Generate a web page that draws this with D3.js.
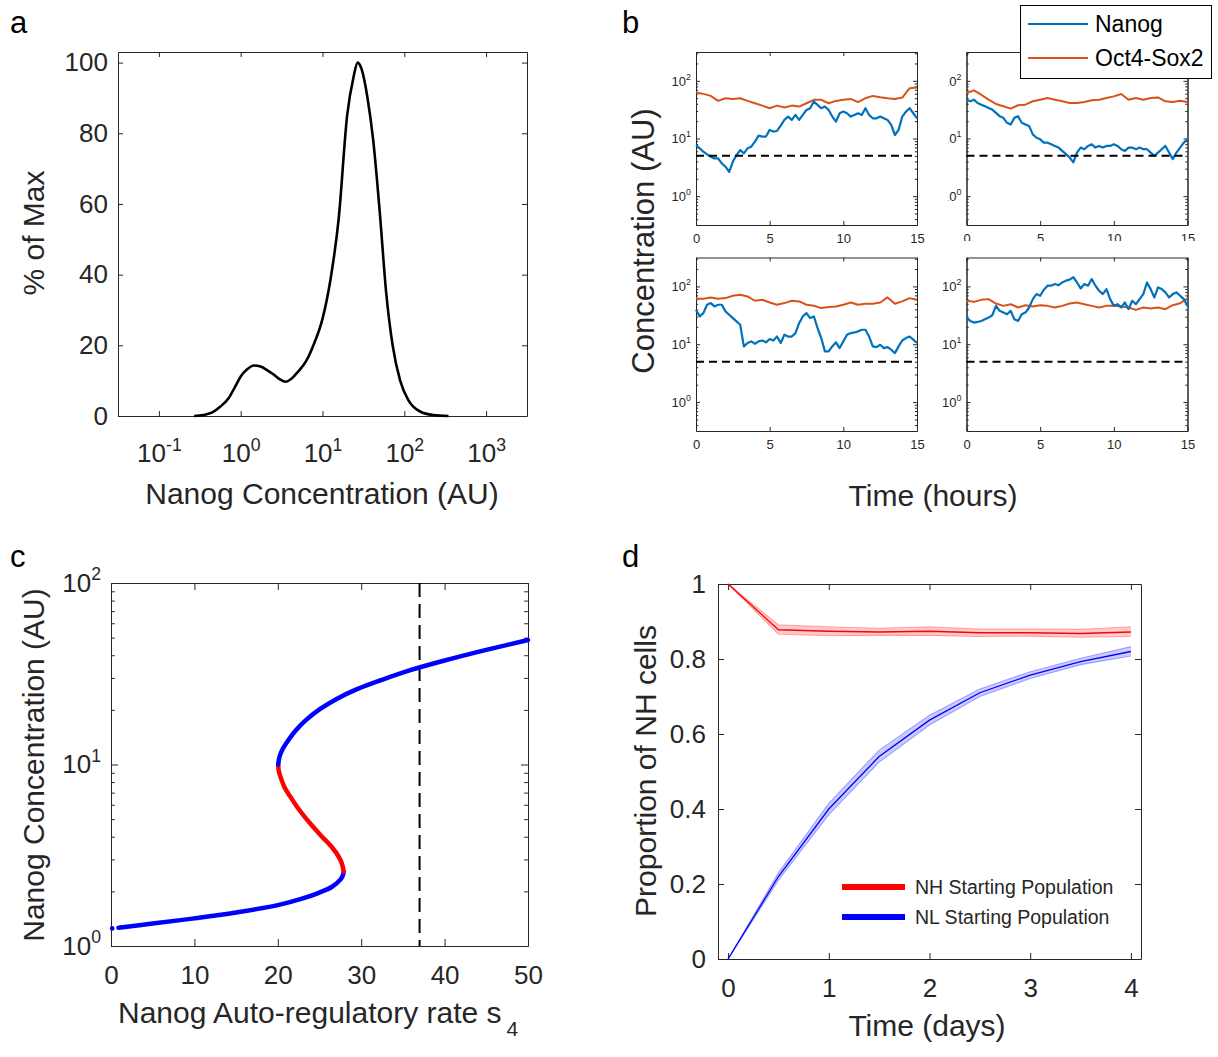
<!DOCTYPE html>
<html>
<head>
<meta charset="utf-8">
<script src="https://cdn.jsdelivr.net/npm/d3@7"></script>
<style>
  body { margin: 0; background: #fff; }
  text { font-family: "Liberation Sans", Arial, sans-serif; }
</style>
</head>
<body>
<div id="fig"></div>
<script>
// ---- panel a: Nanog distribution
var concA = [0.27, 0.35, 0.45, 0.56, 0.71, 0.85, 1.0, 1.2, 1.45, 1.75, 2.1, 2.5, 3.0, 3.55, 4.2, 5.0, 6.3, 7.9,
  10, 12.6, 15.8, 20, 24, 26.9, 30.2, 35.5, 41.7, 50, 60, 72, 89, 112, 158, 224, 347];
var pctA = [0, 0.3, 1.0, 2.6, 5.0, 8.2, 11.2, 13.2, 14.3, 14.0, 13.0, 11.8, 10.4, 9.7, 10.6, 12.5, 15.5, 20.5,
  27.5, 39, 56, 85, 96, 100, 98, 90, 78, 58, 35, 20, 10, 4.5, 1.2, 0.3, 0];
var xTicksA = [0.1, 1, 10, 100, 1000];
var yTicksA = [0, 20, 40, 60, 80, 100];

// ---- panel b: four stochastic trajectories (hours)
var threshold = 5;
var xTicksB = [0, 5, 10, 15];
var yTicksB = [1, 10, 100];
var octTL = [62.7, 59.4, 54.8, 44.9, 50.0, 48.6, 50.0, 44.9, 40.9, 37.2, 33.5, 37.2, 34.4, 37.2, 35.8, 40.9,
  46.8, 46.8, 40.9, 44.9, 46.8, 48.6, 42.6, 50.0, 54.8, 52.0, 50.0, 48.6, 51.3, 74.5, 76.6];
var nanogTL = [7.71, 6.75, 5.90, 5.31, 4.83, 4.52, 4.52, 3.70, 3.24, 2.65,
  3.95, 5.16, 6.31, 5.52, 6.75, 7.21, 8.81, 11.2, 10.8, 10.8,
  14.1, 13.2, 13.5, 16.7, 21.0, 24.0, 21.0, 25.6, 21.0, 25.6,
  31.3, 33.5, 43.8, 38.3, 33.5, 35.8, 31.3, 24.0, 19.6, 27.4,
  29.3, 27.4, 24.0, 25.6, 27.4, 25.6, 33.5, 25.6, 22.4, 22.4,
  24.0, 22.4, 21.0, 17.2, 11.5, 14.1, 24.0, 29.3, 33.5, 27.4, 22.4];
var octTR = [61.4, 68.2, 57.4, 47.1, 39.7, 36.2, 33.0, 37.7, 38.6, 44.2, 47.1, 50.4, 47.1, 44.2, 41.3, 41.3,
  43.0, 45.9, 47.1, 50.4, 53.8, 59.0, 47.1, 50.4, 47.1, 50.4, 51.6, 44.2, 43.0, 45.3, 43.0];
var nanogTR = [47.1, 44.2, 47.1, 41.3, 38.6, 36.2, 33.9, 31.7, 27.8, 24.4,
  22.8, 18.7, 17.5, 22.8, 24.4, 18.7, 17.5, 16.4, 11.8, 10.3,
  9.68, 8.47, 8.47, 7.94, 7.43, 6.95, 6.10, 5.35, 4.68, 3.85,
  5.70, 6.95, 6.52, 7.43, 7.94, 6.95, 7.43, 6.95, 7.43, 7.43,
  7.94, 7.43, 6.52, 6.10, 6.95, 6.95, 6.52, 6.95, 6.52, 6.52,
  5.70, 5.00, 5.70, 6.52, 7.43, 5.70, 4.39, 5.70, 6.95, 8.47, 9.68];
var octBL = [61.2, 61.2, 64.6, 61.2, 62.8, 69.0, 71.8, 67.1, 56.5, 58.7, 52.8, 48.2, 51.5, 56.5, 55.1, 48.2,
  46.3, 42.2, 44.0, 45.1, 48.2, 52.8, 48.2, 50.1, 50.1, 52.8, 64.6, 50.1, 55.1, 62.8, 58.7];
var nanogBL = [39.5, 30.3, 34.6, 48.2, 51.5, 45.1, 48.2, 48.2, 37.0, 32.4,
  28.3, 24.8, 21.7, 9.18, 10.5, 11.2, 10.2, 11.2, 11.6, 10.8,
  12.3, 11.6, 13.6, 10.5, 14.6, 13.6, 13.6, 15.6, 23.2, 30.3,
  34.6, 28.3, 30.3, 19.1, 12.8, 7.52, 7.52, 9.18, 10.8, 8.59,
  11.2, 14.6, 15.6, 16.0, 16.7, 17.8, 17.8, 13.6, 9.18, 8.93,
  9.79, 8.59, 8.93, 8.04, 7.03, 9.18, 11.6, 12.8, 13.6, 12.0, 10.5];
var octBR = [56.4, 54.1, 58.6, 60.3, 50.6, 46.1, 49.3, 43.2, 47.3, 44.9, 47.3, 46.1, 43.2, 46.1, 50.6, 52.7,
  49.3, 46.1, 43.2, 46.1, 46.1, 44.9, 43.2, 39.3, 43.2, 41.4, 43.2, 40.4, 47.3, 51.3, 61.8];
var nanogBR = [28.9, 25.3, 23.7, 24.3, 25.3, 27.0, 28.9, 31.7, 46.1, 37.8,
  35.3, 33.0, 37.8, 27.0, 25.3, 33.0, 35.3, 43.2, 60.3, 73.6,
  68.9, 87.5, 103, 103, 110, 105, 117, 126, 131, 144,
  117, 92.3, 110, 103, 134, 103, 84.1, 73.6, 89.9, 60.3,
  46.1, 49.3, 43.2, 52.7, 40.4, 56.4, 49.3, 60.3, 73.6, 117,
  89.9, 64.4, 96.2, 89.9, 78.7, 64.4, 73.6, 78.7, 68.9, 60.3, 46.1];
var legendB = ["Nanog", "Oct4-Sox2"];

// ---- panel c: bifurcation diagram
var lowS = [0.9, 5, 10, 15, 20, 23, 25, 26.5, 27.5, 27.8, 27.9];
var lowN = [1.26, 1.33, 1.42, 1.53, 1.68, 1.83, 1.97, 2.12, 2.32, 2.45, 2.57];
var midS = [27.9, 27.75, 27.4, 26.5, 25.3, 24.2, 23.2, 22.3, 21.5, 20.8, 20.3, 20.1, 20.05];
var midN = [2.57, 2.78, 3.05, 3.5, 4.0, 4.55, 5.16, 5.85, 6.65, 7.5, 8.6, 9.3, 10];
var highS = [20.05, 20.2, 20.6, 21.3, 22.2, 23.4, 25, 27, 29.5, 32.5, 36, 40, 45, 50];
var highN = [10, 11.0, 12.2, 13.7, 15.5, 17.6, 20.1, 22.9, 26.0, 29.3, 33.2, 37.4, 42.8, 48.5];
var startS = 0.14, startN = 1.25;
var s4Marker = 37;
var xTicksC = [0, 10, 20, 30, 40, 50];
var yTicksC = [1, 10, 100];

// ---- panel d: proportion of NH cells over days
var days = [0, 0.5, 1, 1.5, 2, 2.5, 3, 3.5, 4];
var nhMean = [1.0, 0.878, 0.874, 0.872, 0.874, 0.870, 0.870, 0.868, 0.872];
var nhUpper = [1.0, 0.891, 0.886, 0.882, 0.886, 0.880, 0.880, 0.879, 0.886];
var nhLower = [1.0, 0.866, 0.862, 0.863, 0.863, 0.860, 0.861, 0.858, 0.860];
var nlMean = [0, 0.22, 0.40, 0.54, 0.637, 0.71, 0.757, 0.793, 0.82];
var nlUpper = [0, 0.23, 0.415, 0.557, 0.65, 0.72, 0.766, 0.802, 0.833];
var nlLower = [0, 0.21, 0.385, 0.525, 0.624, 0.70, 0.748, 0.785, 0.808];
var xTicksD = [0, 1, 2, 3, 4];
var yTicksD = [0, 0.2, 0.4, 0.6, 0.8, 1];
var legendD = ["NH Starting Population", "NL Starting Population"];

var axisColor = "#262626";
var nanogColor = "#0072BD", octColor = "#D95319";

var svg = d3.select("#fig").append("svg")
  .attr("width", 1218)
  .attr("height", 1057);
svg.append("rect").attr("width", 1218).attr("height", 1057).attr("fill", "#fff");

// "10^n" labels with a raised exponent
function powTen(sel, fs) {
  sel.each(function(d) {
    var t = d3.select(this).text(null);
    t.append("tspan").text("10");
    t.append("tspan")
      .attr("dy", -0.45 * fs)
      .attr("font-size", 0.68 * fs)
      .text(Math.round(Math.log10(d)));
  });
}

// matlab style box: ticks pointing in on all four sides
function frame(g, x, y, o) {
  var xr = x.range(), yr = y.range();
  var xb = g.append("g").attr("transform", `translate(0,${yr[0]})`)
    .call(d3.axisBottom(x).tickValues(o.xTicks).tickSizeInner(-o.tick).tickSizeOuter(0)
      .tickPadding(o.xPad).tickFormat(o.xFmt));
  var xt = g.append("g").attr("transform", `translate(0,${yr[1]})`)
    .call(d3.axisTop(x).tickValues(o.xTicks).tickSizeInner(-o.tick).tickSizeOuter(0).tickFormat(""));
  var yl = g.append("g").attr("transform", `translate(${xr[0]},0)`)
    .call(d3.axisLeft(y).tickValues(o.yTicks).tickSizeInner(-o.tick).tickSizeOuter(0)
      .tickPadding(o.yPad).tickFormat(o.yFmt));
  var yri = g.append("g").attr("transform", `translate(${xr[1]},0)`)
    .call(d3.axisRight(y).tickValues(o.yTicks).tickSizeInner(-o.tick).tickSizeOuter(0).tickFormat(""));
  var all = [xb, xt, yl, yri];
  if (o.yMinor) {
    all.push(g.append("g").attr("transform", `translate(${xr[0]},0)`)
      .call(d3.axisLeft(y).tickValues(o.yMinor).tickSizeInner(-o.tick * 0.55).tickSizeOuter(0).tickFormat("")));
    all.push(g.append("g").attr("transform", `translate(${xr[1]},0)`)
      .call(d3.axisRight(y).tickValues(o.yMinor).tickSizeInner(-o.tick * 0.55).tickSizeOuter(0).tickFormat("")));
  }
  all.forEach(function(a) {
    a.attr("color", axisColor).attr("font-size", o.fs);
  });
  if (o.xLog) powTen(xb.selectAll(".tick text"), o.fs);
  if (o.yLog) powTen(yl.selectAll(".tick text"), o.fs);
}

function logMinor(lo, hi) {
  var out = [];
  for (var e = -2; e <= 3; e++) {
    for (var m = 2; m <= 9; m++) {
      var v = m * Math.pow(10, e);
      if (v > lo && v < hi) out.push(v);
    }
  }
  return out;
}

function label(x, y, txt, fs, rotate) {
  return svg.append("text")
    .attr("transform", `translate(${x},${y})` + (rotate ? " rotate(-90)" : ""))
    .attr("text-anchor", "middle")
    .attr("dy", "0.35em")
    .attr("font-size", fs)
    .attr("fill", axisColor)
    .text(txt);
}

function panelLetter(x, y, txt) {
  svg.append("text").attr("x", x).attr("y", y).attr("font-size", 31).attr("fill", "#000").text(txt);
}

// ================= panel a
var xA = d3.scaleLog().domain([Math.pow(10, -1.5), Math.pow(10, 3.5)]).range([118, 527]);
var yA = d3.scaleLinear().domain([0, 103]).range([416, 52]);
var gA = svg.append("g");
frame(gA, xA, yA, {xTicks: xTicksA, yTicks: yTicksA, tick: 5, xPad: 28, yPad: 10, fs: 26,
  xFmt: d => d, yFmt: d => d, xLog: true});
gA.append("path")
  .datum(pctA)
  .attr("d", d3.line().x((d, i) => xA(concA[i])).y(d => yA(d)).curve(d3.curveMonotoneX))
  .attr("fill", "none")
  .attr("stroke", "#000")
  .attr("stroke-width", 2.6);
label(322, 493, "Nanog Concentration (AU)", 30);
label(33, 233, "% of Max", 30, true);
panelLetter(10, 33, "a");

// ================= panel b
var tHalf = d3.range(0, 15.001, 0.5);
var tQuarter = d3.range(0, 15.001, 0.25);
var subplots = [
  {x0: 696, x1: 917, y0: 225, y1: 52, oct: octTL, nanog: nanogTL},
  {x0: 966.5, x1: 1187.5, y0: 225, y1: 52, oct: octTR, nanog: nanogTR, clip: true},
  {x0: 696, x1: 917, y0: 431, y1: 257.5, oct: octBL, nanog: nanogBL},
  {x0: 966.5, x1: 1187.5, y0: 431, y1: 257.5, oct: octBR, nanog: nanogBR}
];
svg.append("defs").append("clipPath").attr("id", "clipTR")
  .append("rect").attr("x", 948.5).attr("y", 0).attr("width", 270).attr("height", 241);

subplots.forEach(function(p) {
  var x = d3.scaleLinear().domain([0, 15]).range([p.x0, p.x1]);
  var y = d3.scaleLog().domain([Math.pow(10, -0.5), Math.pow(10, 2.5)]).range([p.y0, p.y1]);
  var g = svg.append("g");
  if (p.clip) g.attr("clip-path", "url(#clipTR)");
  frame(g, x, y, {xTicks: xTicksB, yTicks: yTicksB, yMinor: logMinor(0.32, 316), tick: 4, xPad: 9, yPad: 5,
    fs: 13, xFmt: d => d, yFmt: d => d, yLog: true});
  g.append("path")
    .datum(p.oct)
    .attr("d", d3.line().x((d, i) => x(tHalf[i])).y(d => y(d)))
    .attr("fill", "none")
    .attr("stroke", octColor)
    .attr("stroke-width", 2)
    .attr("stroke-linejoin", "round");
  g.append("path")
    .datum(p.nanog)
    .attr("d", d3.line().x((d, i) => x(tQuarter[i])).y(d => y(d)))
    .attr("fill", "none")
    .attr("stroke", nanogColor)
    .attr("stroke-width", 2.2)
    .attr("stroke-linejoin", "round");
  g.append("line")
    .attr("x1", x(0)).attr("x2", x(15))
    .attr("y1", y(threshold)).attr("y2", y(threshold))
    .attr("stroke", "#000")
    .attr("stroke-width", 2)
    .attr("stroke-dasharray", "8,5");
});

// legend for b
var legB = svg.append("g");
legB.append("rect")
  .attr("x", 1020.5).attr("y", 5.5).attr("width", 191).attr("height", 73)
  .attr("fill", "#fff").attr("stroke", "#000").attr("stroke-width", 1);
legendB.forEach(function(name, i) {
  var yy = 24 + i * 34;
  legB.append("line")
    .attr("x1", 1028).attr("x2", 1088).attr("y1", yy).attr("y2", yy)
    .attr("stroke", i === 0 ? nanogColor : octColor)
    .attr("stroke-width", 2);
  legB.append("text")
    .attr("x", 1095).attr("y", yy).attr("dy", "0.35em")
    .attr("font-size", 23).attr("fill", "#000")
    .text(name);
});
label(643, 241, "Concentration (AU)", 31, true);
label(933, 495, "Time (hours)", 30);
panelLetter(622, 33, "b");

// ================= panel c
var xC = d3.scaleLinear().domain([0, 50]).range([111, 528]);
var yC = d3.scaleLog().domain([1, 100]).range([946, 583]);
var gC = svg.append("g");
frame(gC, xC, yC, {xTicks: xTicksC, yTicks: yTicksC, yMinor: logMinor(1, 100), tick: 7, xPad: 20, yPad: 10,
  fs: 26, xFmt: d => d, yFmt: d => d, yLog: true});
gC.append("line")
  .attr("x1", xC(s4Marker)).attr("x2", xC(s4Marker))
  .attr("y1", yC(100)).attr("y2", yC(1))
  .attr("stroke", "#000")
  .attr("stroke-width", 2)
  .attr("stroke-dasharray", "14,7");
var branches = [
  {s: lowS, n: lowN, color: "#0000FF"},
  {s: midS, n: midN, color: "#FF0000"},
  {s: highS, n: highN, color: "#0000FF"}
];
branches.forEach(function(b) {
  gC.append("path")
    .datum(b.n)
    .attr("d", d3.line().x((d, i) => xC(b.s[i])).y(d => yC(d)).curve(d3.curveCatmullRom.alpha(0.5)))
    .attr("fill", "none")
    .attr("stroke", b.color)
    .attr("stroke-width", 4.5)
    .attr("stroke-linecap", "round");
});
gC.append("circle")
  .attr("cx", xC(startS)).attr("cy", yC(startN)).attr("r", 2.3)
  .attr("fill", "#0000FF");
var xlabC = svg.append("text")
  .attr("x", 118).attr("y", 1023)
  .attr("font-size", 30)
  .attr("fill", axisColor);
xlabC.append("tspan").text("Nanog Auto-regulatory rate s");
xlabC.append("tspan").attr("dx", 5).attr("dy", 13).attr("font-size", 21).text("4");
label(33, 765, "Nanog Concentration (AU)", 30, true);
panelLetter(10, 567, "c");

// ================= panel d
var xD = d3.scaleLinear().domain([-0.1, 4.1]).range([718, 1141]);
var yD = d3.scaleLinear().domain([0, 1]).range([959, 584]);
var gD = svg.append("g");
frame(gD, xD, yD, {xTicks: xTicksD, yTicks: yTicksD, tick: 6, xPad: 20, yPad: 12, fs: 26,
  xFmt: d => d, yFmt: d => d});
var groups = [
  {mean: nhMean, up: nhUpper, lo: nhLower, color: "#FF0000"},
  {mean: nlMean, up: nlUpper, lo: nlLower, color: "#0000FF"}
];
groups.forEach(function(s) {
  var band = d3.area().x((d, i) => xD(days[i])).y0((d, i) => yD(s.lo[i])).y1(d => yD(d));
  gD.append("path").datum(s.up).attr("d", band)
    .attr("fill", s.color).attr("fill-opacity", 0.2);
  [s.up, s.lo].forEach(function(edge) {
    gD.append("path").datum(edge)
      .attr("d", d3.line().x((d, i) => xD(days[i])).y(d => yD(d)))
      .attr("fill", "none").attr("stroke", s.color).attr("stroke-opacity", 0.3).attr("stroke-width", 1.2);
  });
  gD.append("path").datum(s.mean)
    .attr("d", d3.line().x((d, i) => xD(days[i])).y(d => yD(d)))
    .attr("fill", "none").attr("stroke", s.color).attr("stroke-width", 1.3);
});
legendD.forEach(function(name, i) {
  var yy = 887 + i * 30;
  gD.append("line")
    .attr("x1", 842).attr("x2", 905).attr("y1", yy).attr("y2", yy)
    .attr("stroke", i === 0 ? "#FF0000" : "#0000FF")
    .attr("stroke-width", 6);
  gD.append("text")
    .attr("x", 915).attr("y", yy).attr("dy", "0.35em")
    .attr("font-size", 19.5).attr("fill", axisColor)
    .text(name);
});
label(927, 1025, "Time (days)", 30);
label(645, 771, "Proportion of NH cells", 30, true);
panelLetter(622, 567, "d");
</script>
</body>
</html>
